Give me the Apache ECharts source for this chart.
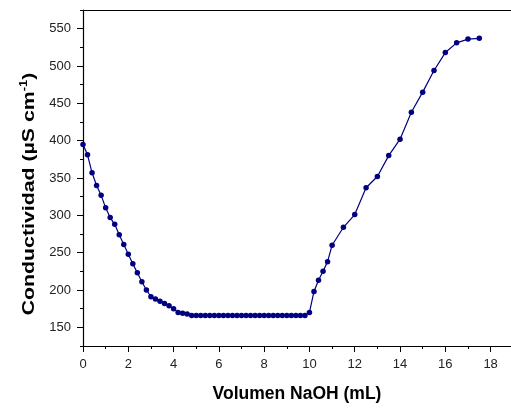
<!DOCTYPE html>
<html>
<head>
<meta charset="utf-8">
<script src="https://cdn.jsdelivr.net/npm/echarts@6/dist/echarts.min.js"></script>
<style>html,body{margin:0;padding:0;background:#fff;}#c{width:511px;height:408px;}</style>
</head>
<body>
<div id="c"></div>
<script>
var volumen = [0,0.2,0.4,0.6,0.8,1.0,1.2,1.4,1.6,1.8,2.0,2.2,2.4,2.6,2.8,3.0,3.2,3.4,3.6,3.8,4.0,4.2,4.4,4.6,4.8,5.0,5.2,5.4,5.6,5.8,6.0,6.2,6.4,6.6,6.8,7.0,7.2,7.4,7.6,7.8,8.0,8.2,8.4,8.6,8.8,9.0,9.2,9.4,9.6,9.8,10.0,10.2,10.4,10.6,10.8,11.0,11.5,12.0,12.5,13.0,13.5,14.0,14.5,15.0,15.5,16.0,16.5,17.0,17.5];
var conductividad = [395,381,357,340,327,310,297,288,274,261,248,235,223,211,200,191,188,185,182,179,175,170,169,168,166,166,166,166,166,166,166,166,166,166,166,166,166,166,166,166,166,166,166,166,166,166,166,166,166,166,170,198,213,225,238,260,284,301,337,352,380,402,438,465,494,518,531,536,537];
var xTicks = [0,2,4,6,8,10,12,14,16,18];
var yTicks = [150,200,250,300,350,400,450,500,550];
var yMinorTicks = [125,175,225,275,325,375,425,475,525,575];
var xTitle = 'Volumen NaOH (mL)';
var yTitle = '{n|Conductividad (µS cm}{s|-1}{n|)}';

var data = volumen.map(function(x,i){return [x, conductividad[i]];});
var chart = echarts.init(document.getElementById('c'));
var font = 'Liberation Sans, Arial, sans-serif';
chart.setOption({
  animation:false,
  grid:{left:83,top:10,width:428,height:346,containLabel:false},
  graphic:[{
    type:'text', x:29, y:194, rotation:Math.PI/2, scaleX:1.29, scaleY:1,
    style:{
      text:yTitle, align:'center', verticalAlign:'middle',
      rich:{
        n:{fontFamily:font,fontWeight:'bold',fontSize:16.5,fill:'#000'},
        s:{fontFamily:font,fontWeight:'bold',fontSize:10,fill:'#000',padding:[0,0,9,0]}
      }
    }
  }],
  xAxis:[{
    type:'value',min:0,max:18.9,interval:2,
    name:xTitle,nameLocation:'middle',nameGap:39,
    nameTextStyle:{fontFamily:font,fontWeight:'bold',fontSize:17.5,color:'#000'},
    axisLine:{lineStyle:{color:'#000',width:1.2}},
    axisTick:{show:true,inside:false,length:6,customValues:xTicks,lineStyle:{color:'#000'}},
    minorTick:{show:true,splitNumber:2,length:3,lineStyle:{color:'#000'}},
    axisLabel:{fontFamily:font,fontSize:13,color:'#222',margin:12,customValues:xTicks},
    splitLine:{show:false}
  },{
    type:'value',position:'top',min:0,max:18.9,
    axisLine:{show:true,lineStyle:{color:'#000',width:1.2}},
    axisTick:{show:false},axisLabel:{show:false},splitLine:{show:false}
  }],
  yAxis:[{
    type:'value',min:125,max:575,
    axisLine:{show:true,lineStyle:{color:'#000',width:1.2}},
    axisTick:{show:true,inside:false,length:6,customValues:yTicks,lineStyle:{color:'#000'}},
    axisLabel:{fontFamily:font,fontSize:13,color:'#222',margin:12,customValues:yTicks},
    splitLine:{show:false}
  },{
    type:'value',position:'left',min:125,max:575,
    axisLine:{show:false},
    axisTick:{show:true,inside:false,length:3,customValues:yMinorTicks,lineStyle:{color:'#000'}},
    axisLabel:{show:false},splitLine:{show:false}
  }],
  series:[{
    type:'line',data:data,xAxisIndex:0,yAxisIndex:0,
    symbol:'circle',symbolSize:5.5,showAllSymbol:true,
    lineStyle:{color:'#000080',width:1.2},
    itemStyle:{color:'#000080'}
  }]
});
</script>
</body>
</html>
